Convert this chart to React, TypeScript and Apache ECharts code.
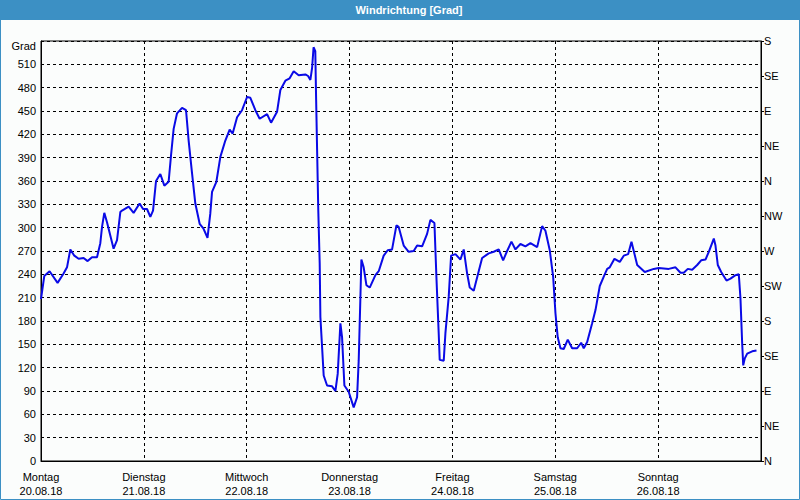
import React, { useEffect, useRef } from "react";
import * as echarts from "echarts";

const chartTitle = "Windrichtung [Grad]";
const dayNames = ["Montag", "Dienstag", "Mittwoch", "Donnerstag", "Freitag", "Samstag", "Sonntag"];
const dayDates = ["20.08.18", "21.08.18", "22.08.18", "23.08.18", "24.08.18", "25.08.18", "26.08.18"];
const compassLabels = ["N", "NE", "E", "SE", "S", "SW", "W", "NW", "N", "NE", "E", "SE", "S"];

// hours since Monday 00:00
const hours = [
  0, 0.77, 2.0, 3.87, 5.27, 6.07, 6.84, 7.77, 8.78, 9.94, 10.88, 11.9, 13.07, 13.84, 14.24, 14.77,
  15.4, 16.94, 17.74, 18.51, 18.91, 20.45, 21.61, 23.01, 23.81, 24.74, 25.51, 26.14, 26.84, 27.84,
  28.78, 29.78, 30.34, 30.95, 31.74, 32.91, 33.84, 34.45, 35.24, 36.01, 37.02, 37.88, 38.85, 39.5,
  39.91, 40.92, 41.85, 43.01, 44.02, 44.72, 45.75, 46.91, 48.08, 48.85, 50.02, 51.02, 52.75, 53.68,
  55.08, 55.85, 57.02, 58.02, 58.96, 60.12, 61.69, 62.32, 62.85, 63.25, 63.6, 64.0, 64.2, 64.45,
  64.7, 65.03, 65.19, 65.58, 65.96, 66.75, 67.92, 68.69, 69.23, 69.86, 70.25, 70.79, 71.79, 72.96,
  73.75, 74.13, 74.53, 74.76, 75.29, 75.93, 76.7, 78.03, 78.8, 79.96, 80.9, 81.92, 82.93, 83.46,
  84.63, 85.8, 86.96, 87.76, 88.93, 90.09, 90.86, 91.8, 92.26, 92.8, 93.03, 93.97, 94.36, 95.13,
  95.69, 96.7, 97.87, 98.64, 99.43, 100.04, 100.97, 102.37, 102.93, 104.47, 105.64, 106.8, 107.83,
  108.76, 109.77, 110.7, 111.87, 113.03, 114.2, 115.77, 116.93, 117.7, 118.71, 119.5, 120.04,
  120.57, 121.2, 121.97, 122.91, 123.93, 125.1, 126.04, 126.64, 127.44, 128.6, 129.38, 130.38,
  131.31, 132.11, 132.71, 133.81, 135.05, 135.98, 137.01, 137.78, 139.11, 140.88, 142.98, 144.15,
  146.48, 148.05, 149.21, 149.98, 150.92, 151.94, 153.11, 154.04, 155.05, 155.82, 156.99, 157.38,
  157.92, 158.71, 159.95, 160.88, 162.05, 162.82, 163.21, 163.61, 163.85, 164.22, 164.78, 165.95,
  166.95,
];

// wind direction in degrees (unwrapped)
const degrees = [
  208, 238, 244, 229, 241, 249, 272, 264, 260, 261, 257, 262, 262, 280, 301, 319,
  307, 273, 284, 320, 322, 327, 319, 331, 324, 324, 314, 322, 360, 369,
  354, 359, 393, 427, 447, 454, 451, 412, 370, 331, 305, 299, 287, 318,
  346, 359, 391, 412, 426, 421, 442, 451, 468, 467, 451, 440, 446, 435,
  449, 477, 489, 492, 501, 496, 497, 495, 490, 505, 532, 527, 464, 393,
  322, 254, 185, 147, 110, 97, 96, 90, 112, 177, 159, 97, 89, 69,
  82, 129, 211, 259, 249, 226, 223, 239, 244, 264, 271, 272, 303, 301,
  277, 269, 270, 277, 276, 292, 310, 306, 237, 164, 130, 129, 164, 211,
  264, 266, 259, 272, 241, 223, 219, 249, 261, 267, 269, 272, 258,
  270, 282, 272, 279, 276, 280, 275, 302, 296, 271, 237, 190,
  159, 145, 144, 156, 145, 145, 152, 145, 153, 177, 194, 225,
  237, 247, 249, 260, 256, 264, 266, 282, 252, 243, 247, 248,
  247, 249, 242, 242, 247, 246, 252, 258, 259, 269, 286, 277,
  252, 243, 232, 234.5, 239, 240, 209, 151, 123, 132, 138, 141,
  142,
];

const FONT = "Liberation Sans";

export default function App() {
  const ref = useRef<HTMLDivElement>(null);

  useEffect(() => {
    document.body.style.margin = "0";
    if (!ref.current) return;
    const chart = echarts.init(ref.current, undefined, { renderer: "svg" });
    const data = hours.map((h, i) => [h, degrees[i]]);

    chart.setOption({
      animation: false,
      backgroundColor: "#fbfdfc",
      textStyle: { fontFamily: FONT },
      graphic: [
        {
          type: "rect",
          shape: { x: 0, y: 0, width: 800, height: 20 },
          style: { fill: "#3c90c4" },
          silent: true,
        },
        {
          type: "rect",
          shape: { x: 0.5, y: 0.5, width: 799, height: 499 },
          style: { fill: "none", stroke: "#3c90c4", lineWidth: 1 },
          silent: true,
        },
        {
          type: "text",
          x: 409,
          y: 10,
          style: {
            text: chartTitle,
            fill: "#ffffff",
            font: `bold 11px "${FONT}"`,
            textAlign: "center",
            textVerticalAlign: "middle",
          },
          silent: true,
        },
      ],
      grid: {
        left: 41,
        right: 39,
        top: 41,
        bottom: 39,
        show: true,
        borderColor: "#000",
        borderWidth: 1,
        backgroundColor: "transparent",
      },
      xAxis: {
        type: "value",
        min: 0,
        max: 168,
        interval: 24,
        axisLine: { show: true, lineStyle: { color: "#000", width: 1 } },
        axisTick: { show: false },
        splitLine: { show: true, lineStyle: { color: "#000", type: [3, 3], width: 1 } },
        axisLabel: {
          color: "#000",
          fontSize: 11,
          fontFamily: FONT,
          margin: 9,
          lineHeight: 14,
          formatter: (v: number) => {
            const i = Math.round(v / 24);
            if (i >= dayNames.length) return "";
            return dayNames[i] + "\n" + dayDates[i];
          },
        },
      },
      yAxis: [
        {
          type: "value",
          min: 0,
          max: 540,
          interval: 30,
          position: "left",
          axisLine: { show: true, lineStyle: { color: "#000", width: 1 } },
          axisTick: { show: false },
          splitLine: { show: true, lineStyle: { color: "#000", type: [3, 3], width: 1 } },
          axisLabel: {
            color: "#000",
            fontSize: 11,
            fontFamily: FONT,
            margin: 5,
            formatter: (v: number) => (v === 540 ? "{g|Grad}" : String(v)),
            rich: { g: { fontSize: 11, fontFamily: FONT, color: "#000", padding: [10, 0, 0, 0] } },
          },
        },
        {
          type: "value",
          min: 0,
          max: 540,
          interval: 45,
          position: "right",
          axisLine: { show: true, lineStyle: { color: "#000", width: 1 } },
          axisTick: { show: true, length: 3, lineStyle: { color: "#000" } },
          splitLine: { show: false },
          axisLabel: {
            color: "#000",
            fontSize: 11,
            fontFamily: FONT,
            margin: 3,
            formatter: (v: number) => compassLabels[Math.round(v / 45)] ?? "",
          },
        },
      ],
      series: [
        {
          type: "line",
          yAxisIndex: 0,
          data,
          showSymbol: false,
          symbol: "none",
          lineStyle: { color: "#0a0ae6", width: 2 },
          z: 5,
        },
      ],
    });

    return () => chart.dispose();
  }, []);

  return <div ref={ref} style={{ width: 800, height: 500 }} />;
}
